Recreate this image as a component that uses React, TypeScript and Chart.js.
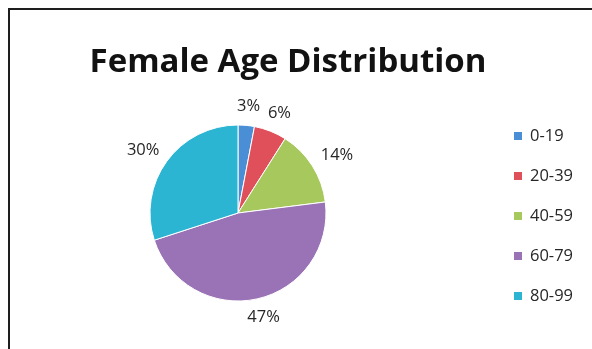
import { useEffect, useRef } from "react";
import { Chart, registerables } from "chart.js";

Chart.register(...registerables);

const TITLE = "Female Age Distribution";
const categories = ["0-19", "20-39", "40-59", "60-79", "80-99"];
const values = [3, 6, 14, 47, 30];
const colors = ["#4A8FD6", "#E0505A", "#A6C85C", "#9A72B6", "#2CB5D3"];

const CANVAS_W = 590;
const CANVAS_H = 345;

const labelPlugin = {
  id: "pctLabels",
  afterDatasetsDraw(chart: any) {
    const ctx = chart.ctx;
    const meta = chart.getDatasetMeta(0);
    const data = chart.data.datasets[0].data as number[];
    const total = data.reduce((a, b) => a + b, 0);
    ctx.save();
    ctx.font = "16.5px 'Open Sans'";
    ctx.fillStyle = "#262626";
    ctx.textAlign = "center";
    ctx.textBaseline = "middle";
    const gap = 13;
    const halfH = 6;
    meta.data.forEach((arc: any, i: number) => {
      const p = arc.getProps(["x", "y", "startAngle", "endAngle", "outerRadius"], true);
      const mid = (p.startAngle + p.endAngle) / 2;
      const c = Math.cos(mid);
      const s = Math.sin(mid);
      const txt = Math.round((data[i] / total) * 100) + "%";
      const w = ctx.measureText(txt).width;
      const r = p.outerRadius + gap;
      const lx = p.x + r * c + (w / 2) * c;
      const ly = p.y + r * s + halfH * s;
      ctx.fillText(txt, lx, ly);
    });
    ctx.restore();
  },
};

const titleLegendPlugin = {
  id: "titleLegend",
  afterDraw(chart: any) {
    const ctx = chart.ctx;
    ctx.save();
    ctx.font = "bold 33px 'Open Sans'";
    ctx.fillStyle = "#121212";
    ctx.textAlign = "center";
    ctx.textBaseline = "alphabetic";
    ctx.fillText(TITLE, 278, 62);

    const labels = chart.data.labels as string[];
    const bg = chart.data.datasets[0].backgroundColor as string[];
    ctx.font = "16.5px 'Open Sans'";
    ctx.textAlign = "left";
    ctx.textBaseline = "middle";
    labels.forEach((lab, i) => {
      const y = 126 + i * 40;
      ctx.fillStyle = bg[i];
      ctx.fillRect(504, y - 4, 8, 8);
      ctx.fillStyle = "#262626";
      ctx.fillText(lab, 520, y);
    });
    ctx.restore();
  },
};

export default function App() {
  const ref = useRef<HTMLCanvasElement>(null);
  useEffect(() => {
    document.documentElement.style.overflow = "hidden";
    document.body.style.overflow = "hidden";
    if (!ref.current) return;
    const chart = new Chart(ref.current, {
      type: "pie",
      data: {
        labels: categories,
        datasets: [
          {
            data: values,
            backgroundColor: colors,
            borderColor: "#ffffff",
            borderWidth: 1,
            hoverOffset: 0,
            offset: 0,
          },
        ],
      },
      options: {
        responsive: false,
        animation: false,
        radius: 88,
        rotation: 0,
        layout: { padding: { left: 40, right: 174, top: 90, bottom: 29 } },
        plugins: {
          legend: { display: false },
          title: { display: false },
          tooltip: { enabled: false },
        },
      } as any,
      plugins: [labelPlugin, titleLegendPlugin],
    });
    return () => chart.destroy();
  }, []);
  return (
    <div
      style={{
        position: "fixed",
        left: 8,
        top: 8,
        width: 592,
        height: 347,
        boxSizing: "border-box",
        borderLeft: "2px solid #1e1e1e",
        borderTop: "2px solid #1e1e1e",
        borderRight: "none",
        borderBottom: "none",
        overflow: "hidden",
        background: "#fff",
      }}
    >
      <canvas
        ref={ref}
        width={CANVAS_W}
        height={CANVAS_H}
        style={{ display: "block", width: CANVAS_W, height: CANVAS_H }}
      />
    </div>
  );
}
